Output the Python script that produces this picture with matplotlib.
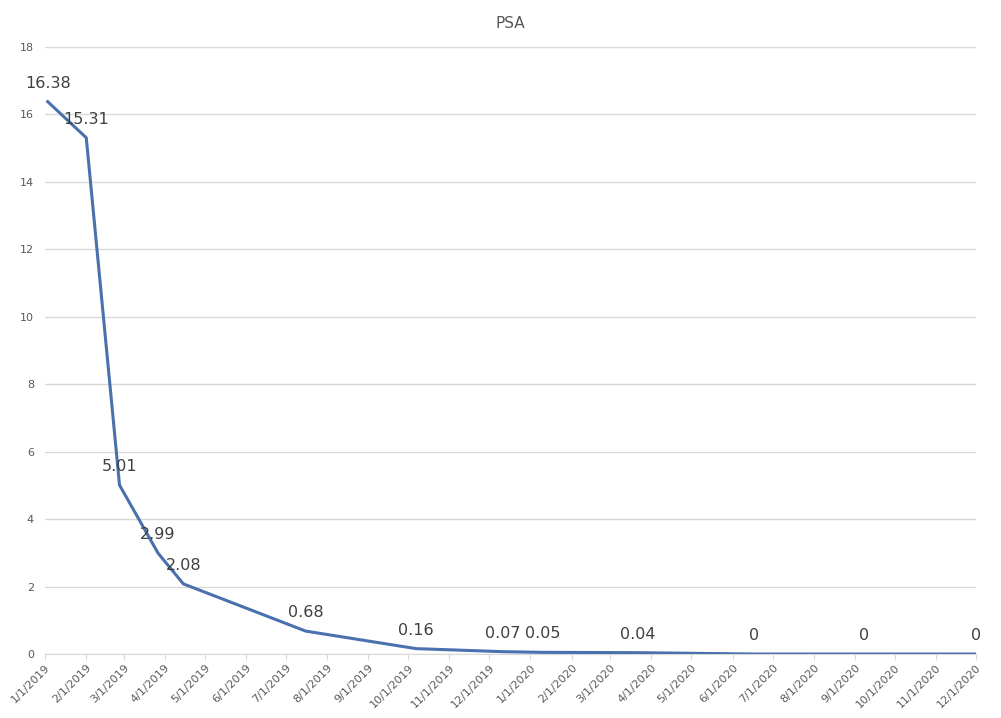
import numpy as np
import matplotlib.pyplot as plt
import matplotlib.dates as mdates

dates = np.array(["2019-01-03", "2019-02-01", "2019-02-26", "2019-03-27", "2019-04-15",
                  "2019-07-16", "2019-10-07", "2019-12-11", "2020-01-10", "2020-03-22",
                  "2020-06-17", "2020-09-08", "2020-12-01"], dtype="datetime64[D]")
psa = [16.38, 15.31, 5.01, 2.99, 2.08, 0.68, 0.16, 0.07, 0.05, 0.04, 0, 0, 0]
labels = ["16.38", "15.31", "5.01", "2.99", "2.08", "0.68", "0.16", "0.07", "0.05", "0.04", "0", "0", "0"]

fig = plt.figure(figsize=(10.01, 7.18), dpi=100)
ax = fig.add_axes([0.045, 0.0891, 0.930, 0.8454])

xs = dates.astype("datetime64[ms]").astype(object)
ax.plot(xs, psa, color="#4a70ad", linewidth=2.2, zorder=3)
for d, v, t in zip(xs, psa, labels):
    ax.annotate(t, (d, v), xytext=(0, 8), textcoords="offset points",
                ha="center", va="bottom", fontsize=11.5, color="#404040")

ax.set_xlim(np.datetime64("2019-01-01").astype(object), np.datetime64("2020-12-01").astype(object))
ax.set_ylim(0, 18)
ax.set_yticks(range(0, 19, 2))
ax.yaxis.grid(True, color="#d9d9d9", linewidth=1)
ax.set_axisbelow(True)

ax.xaxis.set_major_locator(mdates.MonthLocator())
ax.xaxis.set_major_formatter(plt.FuncFormatter(
    lambda x, pos: "{d.month}/{d.day}/{d.year}".format(d=mdates.num2date(x))))
plt.setp(ax.get_xticklabels(), rotation=45, ha="right", rotation_mode="anchor")

for s in ["top", "right", "left"]:
    ax.spines[s].set_visible(False)
ax.spines["bottom"].set_color("#d9d9d9")
ax.tick_params(axis="x", colors="#d9d9d9", labelcolor="#595959", labelsize=8, length=4, pad=2)
ax.tick_params(axis="y", length=0, labelcolor="#595959", labelsize=8, pad=8)

ax.set_title("PSA", fontsize=11, color="#595959", pad=14)

fig.savefig("out.png", dpi=100)
